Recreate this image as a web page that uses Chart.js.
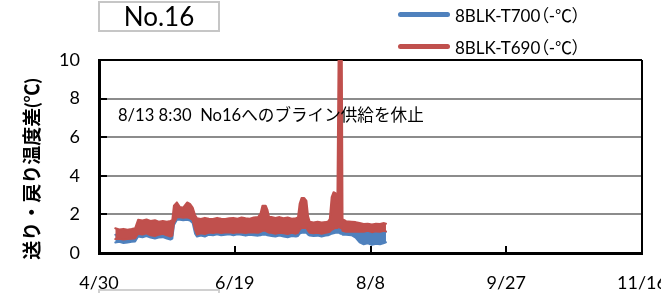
<!DOCTYPE html>
<html>
<head>
<meta charset="utf-8">
<script src="https://cdn.jsdelivr.net/npm/chart.js@4/dist/chart.umd.min.js"></script>
<style>
    body { margin: 0; background: #fff; }
    #wrap { position: relative; width: 661px; height: 293px; overflow: hidden; font-family: Lato, "Noto Sans CJK JP", sans-serif; color: #000; }
    #chart { position: absolute; left: 0; top: 0; }
    #title { position: absolute; left: 98px; top: 1px; width: 122px; height: 31px; box-sizing: border-box; border: 2px solid #c6c6c6; font-size: 26px; line-height: 27px; text-align: center; }
    #nextBox { position: absolute; left: 98px; top: 289px; width: 122px; height: 20px; box-sizing: border-box; border: 2px solid #d0d0d0; }
    #legend { position: absolute; left: 398px; top: 0; font-size: 17px; }
    .item { position: absolute; left: 0; height: 22px; display: flex; align-items: center; white-space: nowrap; font-feature-settings: "palt"; }
    .item i { display: block; width: 52px; height: 5px; border-radius: 3px; margin-right: 5px; }
    #note { position: absolute; left: 118px; top: 104px; font-size: 16.6px; line-height: 22px; white-space: pre; }
    #ytitle { position: absolute; left: -88px; top: 157px; width: 240px; height: 24px; line-height: 24px; text-align: center; font-size: 19px; font-weight: bold; transform: rotate(-90deg); white-space: nowrap; }
</style>
</head>
<body>
<div id="wrap">
    <canvas id="chart" width="661" height="293"></canvas>
    <div id="title">No.16</div>
    <div id="nextBox"></div>
    <div id="legend"></div>
    <div id="note">8/13 8:30  No16へのブライン供給を休止</div>
    <div id="ytitle">送り・戻り温度差(℃)</div>
</div>
<script>
// days counted from 4/30
const tickDays = [0, 50, 100, 150, 200];
const tickLabels = ['4/30', '6/19', '8/8', '9/27', '11/16'];

const days = [
    6.0, 7.5, 9.0, 10.5, 12.0, 13.3,
    14.4, 16.0, 17.5, 19.0, 20.6, 22.0, 23.5, 25.0, 26.3, 27.0,
    27.6, 28.7, 29.8, 31.0, 32.5, 33.5, 34.5, 35.4,
    36.1, 37.5, 39.0, 40.5, 42.0, 43.5, 45.0, 46.5, 48.0, 49.5, 51.0, 52.5, 54.0, 55.5, 57.0, 58.6,
    59.5, 60.2, 61.4, 62.0, 62.6,
    63.5, 65.0, 66.5, 68.0, 69.5, 71.0, 72.5, 73.3,
    73.9, 74.6, 75.6, 76.4, 77.0,
    77.6, 79.0, 80.5, 82.0, 83.5, 84.4,
    85.0, 85.7, 86.4, 87.1, 87.8, 88.3, 88.9, 89.4, 89.7,
    91.0, 93.0, 94.5,
    96.0, 97.5, 99.0, 100.5, 102.0, 103.5, 105.0, 105.7
];

// 8BLK-T690: daily upper / lower envelope
const t690High = [
    1.28, 1.22, 1.25, 1.20, 1.24, 1.28,
    1.72, 1.68, 1.74, 1.66, 1.70, 1.62, 1.66, 1.62, 1.66, 1.70,
    2.45, 2.62, 2.38, 2.35, 2.62, 2.55, 2.35, 1.95,
    1.80, 1.76, 1.82, 1.78, 1.76, 1.82, 1.78, 1.76, 1.80, 1.82, 1.78, 1.84, 1.80, 1.78, 1.84, 1.86,
    2.05, 2.45, 2.45, 2.25, 1.88,
    1.86, 1.82, 1.86, 1.80, 1.84, 1.78, 1.80, 1.84,
    2.55, 2.85, 2.85, 2.70, 1.90,
    1.62, 1.58, 1.62, 1.58, 1.60, 1.64,
    1.75, 2.90, 3.15, 3.10, 2.60, 11, 11, 11, 1.75,
    1.65, 1.62, 1.60,
    1.55, 1.50, 1.52, 1.48, 1.52, 1.50, 1.55, 1.52
];
const t690Low = [
    0.72, 0.74, 0.70, 0.72, 0.74, 0.76,
    1.00, 0.96, 1.02, 0.92, 0.88, 0.95, 1.00, 0.92, 0.85, 0.90,
    1.55, 1.85, 1.85, 1.82, 1.85, 1.80, 1.70, 1.20,
    0.95, 1.02, 0.98, 1.06, 1.04, 1.08, 1.04, 1.06, 1.08, 1.04, 1.08, 1.06, 1.04, 1.08, 1.06, 1.05,
    1.10, 1.15, 1.15, 1.10, 1.05,
    1.05, 1.00, 1.05, 1.02, 0.98, 1.05, 1.00, 1.05,
    1.20, 1.30, 1.30, 1.30, 1.15,
    1.05, 1.02, 1.05, 1.00, 1.05, 1.08,
    1.10, 1.20, 1.25, 1.30, 1.30, 1.35, 1.30, 1.30, 1.15,
    1.10, 1.12, 1.10,
    1.12, 1.10, 1.15, 1.08, 1.12, 1.10, 1.15, 1.12
];

// 8BLK-T700: daily upper / lower envelope
const t700High = [
    0.95, 0.95, 0.92, 0.95, 0.95, 1.00,
    1.25, 1.25, 1.28, 1.20, 1.15, 1.20, 1.25, 1.18, 1.12, 1.15,
    1.70, 1.90, 1.90, 1.88, 1.90, 1.88, 1.80, 1.40,
    1.20, 1.25, 1.22, 1.28, 1.26, 1.30, 1.26, 1.28, 1.30, 1.26, 1.30, 1.28, 1.26, 1.30, 1.28, 1.28,
    1.30, 1.35, 1.35, 1.30, 1.28,
    1.28, 1.22, 1.28, 1.25, 1.20, 1.28, 1.22, 1.28,
    1.40, 1.50, 1.50, 1.50, 1.40,
    1.30, 1.25, 1.28, 1.22, 1.28, 1.30,
    1.30, 1.35, 1.40, 1.45, 1.45, 1.45, 1.40, 1.35, 1.30,
    1.25, 1.20, 1.12,
    1.10, 1.08, 1.12, 1.05, 1.10, 1.08, 1.12, 1.10
];
const t700Low = [
    0.55, 0.58, 0.52, 0.55, 0.58, 0.60,
    0.85, 0.82, 0.88, 0.80, 0.75, 0.80, 0.82, 0.75, 0.70, 0.75,
    1.45, 1.72, 1.72, 1.70, 1.72, 1.68, 1.55, 1.00,
    0.85, 0.90, 0.85, 0.95, 0.92, 0.97, 0.92, 0.95, 0.97, 0.92, 0.97, 0.95, 0.90, 0.95, 0.92, 0.90,
    0.92, 0.95, 0.95, 0.92, 0.90,
    0.88, 0.85, 0.90, 0.85, 0.82, 0.88, 0.85, 0.88,
    1.00, 1.05, 1.05, 1.05, 0.95,
    0.90, 0.88, 0.90, 0.85, 0.90, 0.92,
    0.95, 1.00, 1.02, 1.05, 1.05, 1.05, 1.00, 1.00, 0.95,
    0.95, 0.92, 0.80,
    0.55, 0.45, 0.50, 0.42, 0.48, 0.45, 0.52, 0.55
];

const seriesNames = ['8BLK-T700（-℃）', '8BLK-T690（-℃）'];
const seriesColors = ['#4f81bd', '#c0504d'];

const fontFamily = 'Lato, "Noto Sans CJK JP", sans-serif';

const toPoints = (values) => days.map((d, i) => ({ x: d, y: values[i] }));

const band = (values, color, fill) => ({
    data: toPoints(values),
    borderColor: color,
    backgroundColor: color,
    borderWidth: 2,
    borderCapStyle: 'round',
    borderJoinStyle: 'round',
    pointRadius: 0,
    tension: 0,
    fill: fill
});

// inside tick marks + right frame line, drawn under the data
const frameTicks = {
    id: 'frameTicks',
    beforeDatasetsDraw(chart) {
        const { ctx, chartArea: a, scales: { x, y } } = chart;
        ctx.save();
        ctx.strokeStyle = '#000';
        ctx.lineWidth = 2;
        ctx.beginPath();
        x.ticks.forEach(t => {
            const px = Math.round(x.getPixelForValue(t.value));
            ctx.moveTo(px, a.bottom);
            ctx.lineTo(px, a.bottom - 7);
        });
        y.ticks.forEach(t => {
            const py = Math.round(y.getPixelForValue(t.value));
            ctx.moveTo(a.left, py);
            ctx.lineTo(a.left + 8, py);
        });
        ctx.moveTo(a.right, a.top);
        ctx.lineTo(a.right, a.bottom);
        ctx.stroke();
        ctx.restore();
    }
};

new Chart(document.getElementById('chart'), {
    type: 'line',
    data: {
        // red first so it is painted over the blue band
        datasets: [
            band(t690Low, seriesColors[1], false),
            band(t690High, seriesColors[1], '-1'),
            band(t700Low, seriesColors[0], false),
            band(t700High, seriesColors[0], '-1')
        ]
    },
    options: {
        responsive: false,
        animation: false,
        layout: { padding: { top: 60, right: 19, left: 0, bottom: 0 } },
        plugins: {
            legend: { display: false },
            tooltip: { enabled: false }
        },
        scales: {
            x: {
                type: 'linear',
                min: tickDays[0],
                max: tickDays[tickDays.length - 1],
                afterBuildTicks: s => { s.ticks = tickDays.map(v => ({ value: v })); },
                afterFit: s => { s.height = 40; s.paddingLeft = 0; s.paddingRight = 0; },
                ticks: {
                    callback: v => tickLabels[tickDays.indexOf(v)],
                    font: { family: fontFamily, size: 18 },
                    color: '#000',
                    padding: 19,
                    maxRotation: 0,
                    autoSkip: false
                },
                grid: { display: false, drawTicks: false },
                border: { color: '#000', width: 3 }
            },
            y: {
                min: 0,
                max: 10,
                afterFit: s => { s.width = 99; },
                ticks: {
                    stepSize: 2,
                    font: { family: fontFamily, size: 18 },
                    color: '#000',
                    padding: 19
                },
                grid: {
                    color: c => c.tick && c.tick.value === 10 ? '#000' : '#8c8c8c',
                    lineWidth: 2,
                    drawTicks: false
                },
                border: { color: '#000', width: 3 }
            }
        }
    },
    plugins: [frameTicks]
});

// legend rows
const legend = document.getElementById('legend');
seriesNames.forEach((name, i) => {
    const row = document.createElement('div');
    row.className = 'item';
    row.style.top = (3 + i * 32) + 'px';
    const sw = document.createElement('i');
    sw.style.background = seriesColors[i];
    row.appendChild(sw);
    row.appendChild(document.createTextNode(name));
    legend.appendChild(row);
});
</script>
</body>
</html>
